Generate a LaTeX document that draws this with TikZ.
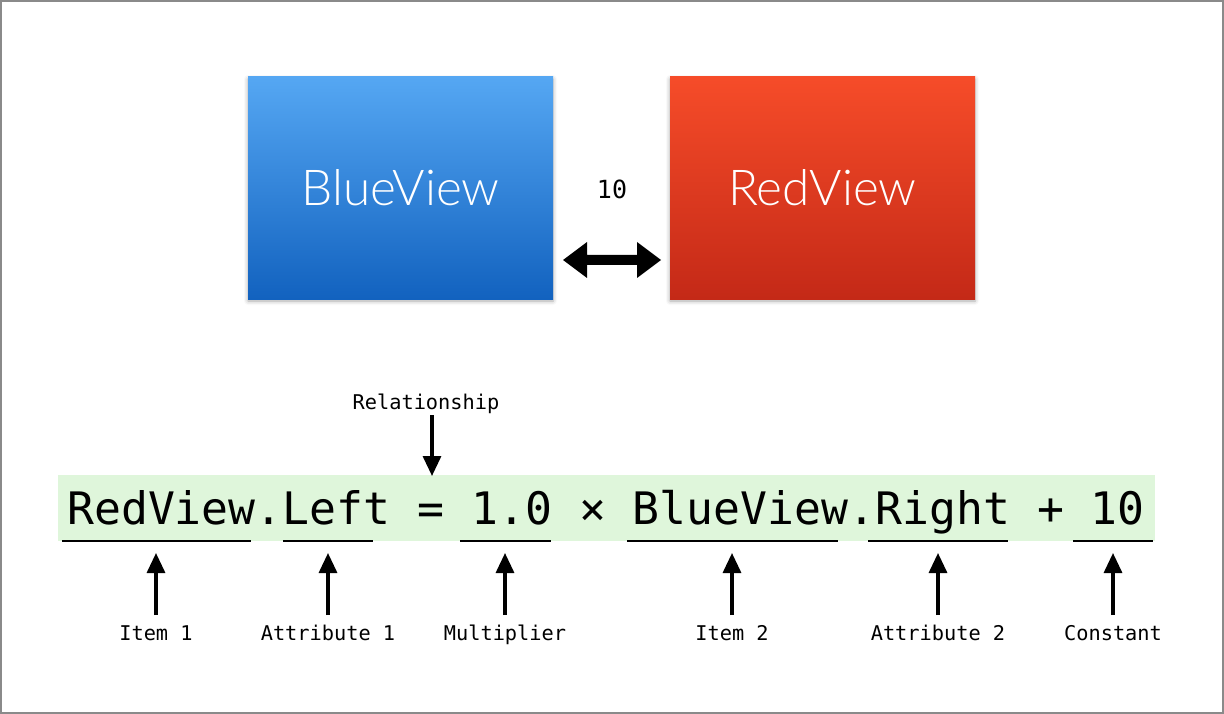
\documentclass[tikz,border=0pt]{standalone}
\usepackage{fontspec}
\usetikzlibrary{shadows.blur,arrows.meta}
\setmonofont{DejaVu Sans Mono}
\IfFontExistsTF{Lato Light}{\newfontfamily\boxfont{Lato Light}}{\newfontfamily\boxfont{Lato}}
\definecolor{frame}{HTML}{8A8A8A}
\definecolor{bluetop}{HTML}{55A7F3}
\definecolor{bluebot}{HTML}{1262BF}
\definecolor{redtop}{HTML}{F64C29}
\definecolor{redbot}{HTML}{C42917}
\definecolor{band}{HTML}{DFF6DB}
\tikzset{
  viewbox/.style={minimum width=305pt, minimum height=222pt, inner sep=0pt,
    text=white, font=\boxfont\fontsize{49.5}{50}\selectfont,
    blur shadow={shadow xshift=0pt, shadow yshift=-2pt, shadow blur radius=4pt, shadow opacity=35}},
  eqtext/.style={inner sep=0pt, anchor=base west, font=\ttfamily\fontsize{44.75}{45}\selectfont},
  lbl/.style={inner sep=0pt, anchor=base, font=\ttfamily\fontsize{20.3}{21}\selectfont},
  uline/.style={line width=2pt},
  uparrow/.style={line width=3.2pt, -{Triangle[width=18pt,length=20pt]}},
}
\begin{document}
\begin{tikzpicture}[x=1pt,y=-1pt]
\useasboundingbox (0,0) rectangle (1224,714);
\draw[frame, line width=2pt] (1,1) rectangle (1223,713);
% boxes
\node[viewbox, top color=bluetop, bottom color=bluebot] (blue) at (400.5,188) {BlueView};
\node[viewbox, top color=redtop, bottom color=redbot] (red) at (822.5,188) {RedView};
\node[inner sep=0pt, font=\ttfamily\fontsize{25}{25}\selectfont] (ten) at (612,189) {10};
% double arrow
\coordinate (al) at (563,260);
\coordinate (ar) at (661,260);
\fill (al) -- ++(24,-18) -- ++(0,13) -- ++(50,0) -- ++(0,-13) -- (ar) -- ++(-24,18) -- ++(0,-13) -- ++(-50,0) -- ++(0,13) -- cycle;
% equation band
\fill[band] (58,475) rectangle (1155,541);
\node[eqtext] (eq) at (67,524) {RedView.Left = 1.0 × BlueView.Right + 10};
% underlines
\draw[uline] (62,541) -- (251,541);
\draw[uline] (283,541) -- (373,541);
\draw[uline] (460,541) -- (551,541);
\draw[uline] (627,541) -- (838,541);
\draw[uline] (868,541) -- (1008,541);
\draw[uline] (1073,541) -- (1153,541);
% relationship
\node[lbl] (rel) at (426,409) {Relationship};
\coordinate (relend) at (432,476);
\draw[uparrow] (432,415) -- (relend);
% labels and arrows
\node[lbl] (l1) at (156,640) {Item 1};
\node[lbl] (l2) at (328,640) {Attribute 1};
\node[lbl] (l3) at (505,640) {Multiplier};
\node[lbl] (l4) at (732,640) {Item 2};
\node[lbl] (l5) at (938,640) {Attribute 2};
\node[lbl] (l6) at (1113,640) {Constant};
\foreach \x/\n in {156/1,328/2,505/3,732/4,938/5,1113/6}{
  \coordinate (t\n) at (\x,553);
  \draw[uparrow] (\x,615) -- (t\n);
}
\end{tikzpicture}
\end{document}
